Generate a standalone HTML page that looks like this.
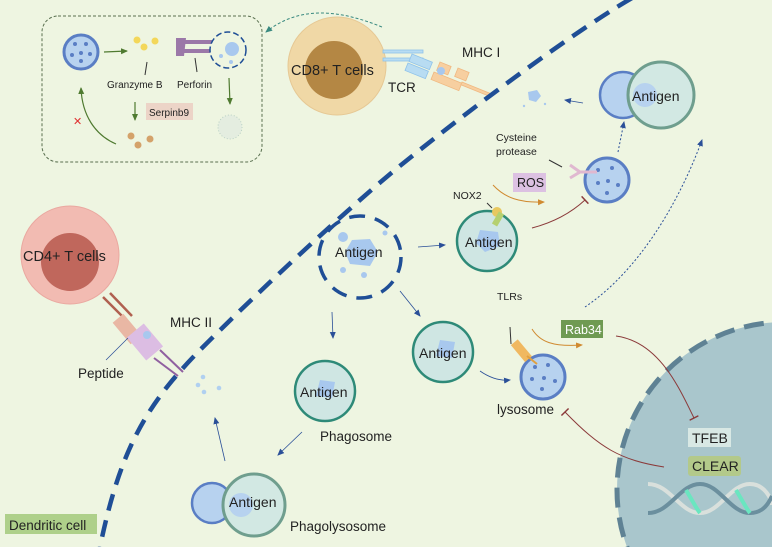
<!DOCTYPE html>
<html><head><meta charset="utf-8"><style>
html,body{margin:0;padding:0;background:#eef5e1;width:772px;height:547px;overflow:hidden}
svg{display:block}
text{font-family:"Liberation Sans",sans-serif;fill:#222}
</style></head><body>
<svg width="772" height="547" viewBox="0 0 772 547" xmlns="http://www.w3.org/2000/svg">
<defs>
<marker id="ab" markerWidth="8" markerHeight="8" refX="6" refY="4" orient="auto" markerUnits="userSpaceOnUse"><path d="M0,1 L7,4 L0,7 z" fill="#2a4f98"/></marker>
<marker id="ag" markerWidth="8" markerHeight="8" refX="6" refY="4" orient="auto" markerUnits="userSpaceOnUse"><path d="M0,1 L7,4 L0,7 z" fill="#4f7a30"/></marker>
<marker id="ao" markerWidth="8" markerHeight="8" refX="6" refY="4" orient="auto" markerUnits="userSpaceOnUse"><path d="M0,1 L7,4 L0,7 z" fill="#d08a30"/></marker>
<marker id="at" markerWidth="8" markerHeight="8" refX="6" refY="4" orient="auto" markerUnits="userSpaceOnUse"><path d="M0,1 L7,4 L0,7 z" fill="#3a8a80"/></marker>
<marker id="tb" markerWidth="8" markerHeight="10" refX="1" refY="5" orient="auto" markerUnits="userSpaceOnUse"><path d="M1,0 L1,10" stroke="#8b3a3a" stroke-width="1.5"/></marker>
</defs>
<rect width="772" height="547" fill="#eef5e1"/>

<!-- nucleus -->
<circle cx="785" cy="490" r="168" fill="#a9c6cc" stroke="#5f8294" stroke-width="5" stroke-dasharray="20 10"/>
<rect x="688" y="428" width="43" height="19" fill="#d8e8e4"/><text x="692" y="443" font-size="14">TFEB</text>
<rect x="688" y="456" width="53" height="20" rx="3" fill="#b3c98a"/><text x="692" y="471" font-size="14">CLEAR</text>
<g fill="none" stroke-width="4">
<path d="M648 484 C670 484 680 513 700 513 C720 513 730 484 750 484 C765 484 772 500 772 505" stroke="#d9e0dc"/>
<path d="M648 513 C670 513 680 484 700 484 C720 484 730 513 750 513 C765 513 770 500 772 496" stroke="#6b8f9e"/>
<path d="M686 490 C692 500 696 508 700 513" stroke="#6ae6c0"/>
<path d="M736 490 C742 500 746 508 750 513" stroke="#6ae6c0"/>
</g>

<!-- dashed box -->
<rect x="42" y="16" width="220" height="146" rx="16" fill="none" stroke="#5a7050" stroke-dasharray="3 2" stroke-width="1"/>
<circle cx="81" cy="52" r="17" fill="#b7d2ef" stroke="#5a7ec4" stroke-width="3"/>
<g fill="#5a7ec4"><circle cx="75" cy="44" r="2"/><circle cx="86" cy="44" r="2"/><circle cx="72" cy="55" r="2"/><circle cx="81" cy="53" r="2"/><circle cx="90" cy="54" r="2"/><circle cx="81" cy="61" r="2"/></g>
<line x1="104" y1="52" x2="127" y2="51" stroke="#4f7a30" stroke-width="1.2" marker-end="url(#ag)"/>
<g fill="#f3d75a"><circle cx="137" cy="40" r="3.5"/><circle cx="144" cy="47" r="3.5"/><circle cx="155" cy="41" r="3.5"/></g>
<line x1="147" y1="62" x2="145" y2="75" stroke="#333"/>
<text x="107" y="88" font-size="10">Granzyme B</text>
<g fill="#9b78a8"><rect x="178" y="40" width="40" height="4"/><rect x="178" y="49" width="40" height="4"/><path d="M176 38 L186 38 L184 56 L176 56 z"/></g>
<line x1="195" y1="58" x2="197" y2="72" stroke="#333"/>
<text x="177" y="88" font-size="10">Perforin</text>
<circle cx="228" cy="50" r="18" fill="#eef5e1" stroke="#1f4e96" stroke-width="1.5" stroke-dasharray="6 3"/>
<circle cx="232" cy="49" r="7" fill="#a8c8ee"/><circle cx="221" cy="56" r="2" fill="#a8c8ee"/><circle cx="231" cy="62" r="2" fill="#a8c8ee"/>
<line x1="229" y1="78" x2="230" y2="104" stroke="#4f7a30" stroke-width="1.2" marker-end="url(#ag)"/>
<circle cx="230" cy="127" r="12" fill="#e4ede0" stroke="#b9d1c4" stroke-dasharray="1 2"/>
<line x1="135" y1="102" x2="135" y2="120" stroke="#4f7a30" stroke-width="1.2" marker-end="url(#ag)"/>
<rect x="146" y="103" width="47" height="17" fill="#ecd4c7"/><text x="149" y="116" font-size="10">Serpinb9</text>
<g fill="#d4a26a"><circle cx="131" cy="136" r="3.5"/><circle cx="138" cy="145" r="3.5"/><circle cx="150" cy="139" r="3.5"/></g>
<path d="M116 144 C95 135 82 115 81 88" fill="none" stroke="#4f7a30" stroke-width="1.2" marker-end="url(#ag)"/>
<text x="73" y="125" font-size="11" style="fill:#e03030">✕</text>

<!-- CD8 -->
<circle cx="337" cy="66" r="49" fill="#f0d8a6" stroke="#e6c894"/>
<circle cx="334" cy="70" r="29" fill="#b48744"/>
<text x="291" y="75" font-size="14.5">CD8+ T cells</text>
<path d="M382 27 C340 10 300 5 266 32" fill="none" stroke="#3a8a80" stroke-dasharray="3 2" marker-end="url(#at)"/>
<g fill="#b8dcf2" stroke="#8ec2ea" stroke-width="0.8"><rect x="383" y="50" width="40" height="3"/><rect x="383" y="58" width="40" height="3"/><rect x="412" y="54" width="22" height="8" transform="rotate(22 412 54)"/><rect x="408" y="63" width="22" height="8" transform="rotate(22 408 63)"/></g>
<g fill="#f7cfa0" stroke="#f0b880" stroke-width="0.8"><rect x="440" y="62" width="12" height="9" transform="rotate(22 440 62)"/><rect x="458" y="68" width="12" height="9" transform="rotate(22 458 68)"/><rect x="434" y="72" width="30" height="8" transform="rotate(22 434 72)"/><rect x="462" y="82" width="30" height="3" transform="rotate(22 462 82)"/></g>
<circle cx="441" cy="71" r="4" fill="#a8c8ee"/>
<text x="462" y="57" font-size="13.5">MHC I</text>
<text x="388" y="92" font-size="13.5">TCR</text>

<!-- membrane -->
<path d="M632 -2 C560 40 430 140 383 180 S260 290 203 347 S120 450 100 547" fill="none" stroke="#1f4e96" stroke-width="4.5" stroke-dasharray="17 10"/>

<!-- CD4 -->
<circle cx="70" cy="255" r="49" fill="#f2bbb2" stroke="#eaa8a0"/>
<circle cx="70" cy="262" r="29" fill="#c0675c"/>
<text x="23" y="261" font-size="14.5">CD4+ T cells</text>
<g><line x1="103" y1="297" x2="126" y2="320" stroke="#b06050" stroke-width="2.5"/><line x1="110" y1="293" x2="132" y2="316" stroke="#b06050" stroke-width="2.5"/>
<rect x="120" y="315" width="14" height="28" fill="#e9b7a4" transform="rotate(-40 127 329)"/><rect x="134" y="327" width="22" height="30" fill="#dcbde3" transform="rotate(-40 145 342)"/>
<line x1="160" y1="350" x2="183" y2="372" stroke="#9060a0" stroke-width="2"/><line x1="154" y1="358" x2="178" y2="376" stroke="#9060a0" stroke-width="2"/></g>
<circle cx="147" cy="335" r="4" fill="#a8c8ee"/>
<line x1="128" y1="338" x2="106" y2="360" stroke="#2a4f98" stroke-width="0.7"/>
<text x="78" y="378" font-size="13.5">Peptide</text>
<text x="170" y="327" font-size="13.5">MHC II</text>
<g fill="#b0d0f0"><circle cx="203" cy="377" r="2.3"/><circle cx="198" cy="385" r="2.3"/><circle cx="204" cy="392" r="2.3"/><circle cx="219" cy="388" r="2.3"/></g>
<line x1="225" y1="461" x2="215" y2="418" stroke="#2a4f98" stroke-width="0.8" marker-end="url(#ab)"/>

<rect x="5" y="514" width="92" height="20" fill="#aed08a"/><text x="9" y="530" font-size="13.5">Dendritic cell</text>

<!-- antigen vesicle -->
<circle cx="360" cy="257" r="41" fill="none" stroke="#1f4e96" stroke-width="3.5" stroke-dasharray="16 10"/>
<path d="M352 240 L370 239 L378 252 L370 266 L350 264 L345 252 z" fill="#a8c8ee"/>
<circle cx="343" cy="237" r="5" fill="#a8c8ee"/><circle cx="385" cy="233" r="2.5" fill="#a8c8ee"/><circle cx="343" cy="270" r="3" fill="#a8c8ee"/><circle cx="364" cy="275" r="3" fill="#a8c8ee"/>
<text x="335" y="257" font-size="14">Antigen</text>
<line x1="332" y1="312" x2="333" y2="338" stroke="#2a4f98" stroke-width="0.8" marker-end="url(#ab)"/>
<line x1="418" y1="247" x2="445" y2="245" stroke="#2a4f98" stroke-width="0.8" marker-end="url(#ab)"/>
<line x1="400" y1="291" x2="420" y2="316" stroke="#2a4f98" stroke-width="0.8" marker-end="url(#ab)"/>

<!-- vesicles -->
<g>
<circle cx="487" cy="241" r="30" fill="#cfe6e3" stroke="#2e8a78" stroke-width="2.5"/>
<path d="M480 230 L498 232 L500 246 L485 252 L476 243 z" fill="#a8c8ee"/>
<text x="465" y="247" font-size="14">Antigen</text>
<circle cx="497" cy="212" r="5" fill="#e8c860"/><rect x="495" y="212" width="6" height="14" fill="#b5d070" transform="rotate(30 498 219)"/>
<line x1="492" y1="208" x2="487" y2="203" stroke="#333"/>
<text x="453" y="199" font-size="10.5">NOX2</text>
<path d="M493 185 C505 198 520 203 544 202" fill="none" stroke="#d08a30" stroke-width="1" marker-end="url(#ao)"/>
<rect x="513" y="173" width="33" height="19" fill="#dcc1e2"/><text x="517" y="187" font-size="12.5">ROS</text>
<path d="M532 228 C555 222 572 212 585 200" fill="none" stroke="#8b3a3a" stroke-width="1" marker-end="url(#tb)"/>
</g>
<g>
<circle cx="443" cy="352" r="30" fill="#cfe6e3" stroke="#2e8a78" stroke-width="2.5"/>
<path d="M440 340 L455 342 L452 358 L436 356 z" fill="#a8c8ee"/>
<text x="419" y="358" font-size="14">Antigen</text>
<path d="M480 371 C490 378 500 381 510 380" fill="none" stroke="#2a4f98" stroke-width="0.8" marker-end="url(#ab)"/>
</g>
<circle cx="325" cy="391" r="30" fill="#cfe6e3" stroke="#2e8a78" stroke-width="2.5"/>
<path d="M320 380 L335 382 L332 398 L316 396 z" fill="#a8c8ee"/>
<text x="300" y="397" font-size="14">Antigen</text>
<text x="320" y="441" font-size="13.5">Phagosome</text>
<line x1="302" y1="432" x2="278" y2="455" stroke="#2a4f98" stroke-width="0.8" marker-end="url(#ab)"/>

<circle cx="212" cy="503" r="20" fill="#b7d2ef" stroke="#5a7ec4" stroke-width="2.5"/>
<circle cx="254" cy="505" r="31" fill="#d2e8e3" stroke="#6f9e8e" stroke-width="3"/>
<circle cx="241" cy="505" r="12" fill="#b7d2ef"/>
<text x="229" y="507" font-size="14">Antigen</text>
<text x="290" y="531" font-size="13.5">Phagolysosome</text>

<!-- lysosomes -->
<g>
<circle cx="543" cy="377" r="22" fill="#b7d2ef" stroke="#5a7ec4" stroke-width="3"/>
<g fill="#5a7ec4"><circle cx="535" cy="367" r="2"/><circle cx="548" cy="365" r="2"/><circle cx="532" cy="379" r="2"/><circle cx="544" cy="378" r="2"/><circle cx="555" cy="381" r="2"/><circle cx="542" cy="389" r="2"/></g>
<rect x="517" y="340" width="9" height="22" fill="#f0b860" transform="rotate(-40 521 351)"/>
<line x1="527" y1="356" x2="537" y2="364" stroke="#e0a040" stroke-width="2"/>
<line x1="510" y1="327" x2="511" y2="344" stroke="#333"/>
<text x="497" y="300" font-size="10.5">TLRs</text>
<text x="497" y="414" font-size="13.5">lysosome</text>
<path d="M532 329 C540 342 553 347 582 345" fill="none" stroke="#d08a30" stroke-width="1" marker-end="url(#ao)"/>
<rect x="561" y="320" width="42" height="18" fill="#6f9a52"/><text x="565" y="334" font-size="12.5" style="fill:#fff">Rab34</text>
<path d="M616 336 C660 342 680 390 694 418" fill="none" stroke="#8b3a3a" stroke-width="1" marker-end="url(#tb)"/>
<path d="M664 467 C620 460 600 448 565 412" fill="none" stroke="#8b3a3a" stroke-width="1" marker-end="url(#tb)"/>
<path d="M585 307 C640 270 680 200 702 140" fill="none" stroke="#2a4f98" stroke-width="1" stroke-dasharray="2 2" marker-end="url(#ab)"/>
</g>
<g>
<circle cx="607" cy="180" r="22" fill="#b7d2ef" stroke="#5a7ec4" stroke-width="3"/>
<g fill="#5a7ec4"><circle cx="598" cy="170" r="2"/><circle cx="612" cy="168" r="2"/><circle cx="598" cy="183" r="2"/><circle cx="608" cy="181" r="2"/><circle cx="618" cy="185" r="2"/><circle cx="607" cy="193" r="2"/></g>
<path d="M570 165 L580 172 L570 178 M580 172 L597 172" fill="none" stroke="#e0b8d0" stroke-width="3"/>
<line x1="549" y1="160" x2="562" y2="167" stroke="#333"/>
<text x="496" y="141" font-size="10.5">Cysteine</text>
<text x="496" y="155" font-size="10.5">protease</text>
<line x1="618" y1="152" x2="624" y2="122" stroke="#2a4f98" stroke-width="1" stroke-dasharray="2 2" marker-end="url(#ab)"/>
</g>
<circle cx="623" cy="95" r="23" fill="#b7d2ef" stroke="#5a7ec4" stroke-width="2.5"/>
<circle cx="661" cy="95" r="33" fill="#d2e8e3" stroke="#6f9e8e" stroke-width="3"/>
<circle cx="645" cy="95" r="12" fill="#b7d2ef"/>
<text x="632" y="101" font-size="14">Antigen</text>
<line x1="583" y1="103" x2="565" y2="100" stroke="#2a4f98" stroke-width="0.8" marker-end="url(#ab)"/>
<path d="M528 92 L537 90 L541 96 L536 102 L529 100 z" fill="#a8c8ee"/>
<circle cx="524" cy="106" r="1.2" fill="#a8c8ee"/><circle cx="545" cy="104" r="1.2" fill="#a8c8ee"/>
</svg>
</body></html>
